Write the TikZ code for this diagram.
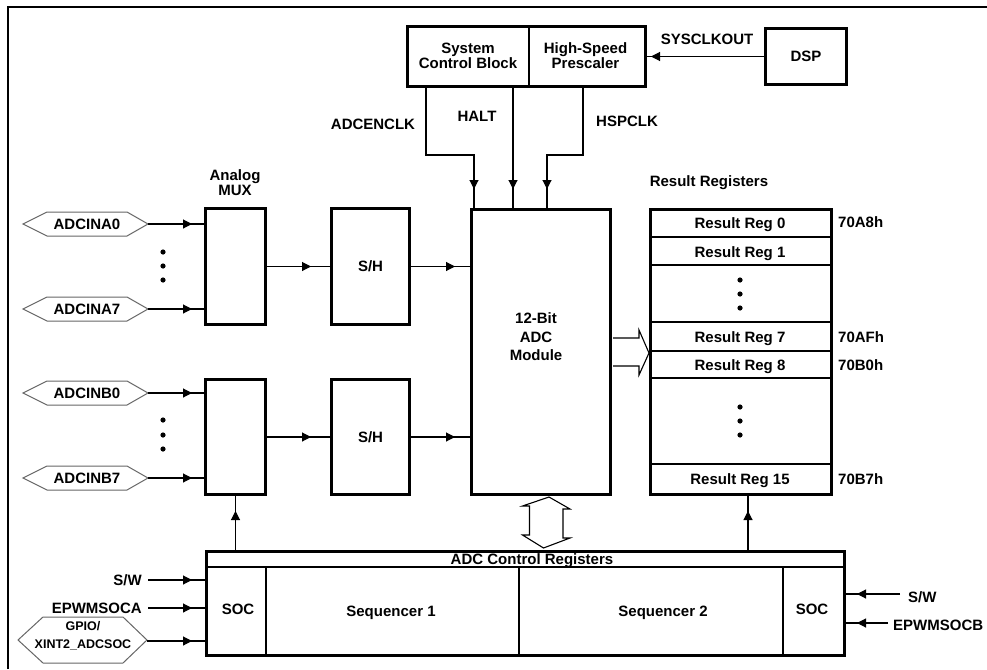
\documentclass[tikz,border=0pt]{standalone}
\usepackage{fontspec}
\setmainfont{Liberation Sans}
\usetikzlibrary{arrows.meta,decorations.markings,calc}
\tikzset{
  lbl/.style={font=\bfseries\fontsize{15}{15}\selectfont, inner sep=0pt, align=center, text height=10.7pt, text depth=0pt},
  mlbl/.style={font=\bfseries\fontsize{15}{15}\selectfont, inner sep=0pt, align=center},
  heavybox/.style={draw, line width=3pt, anchor=north west, inner sep=0pt},
  thinline/.style={line width=1.1pt},
  hexline/.style={draw=black!60, line width=1pt},
  feed/.style={line width=1.1pt, postaction={decorate},
    decoration={markings, mark=at position -#1 with {\arrow{Triangle[length=9pt,width=9pt]}}}},
  feed/.default=12pt,
  dot/.style={fill=black}
}
\newcommand\myhex[3]{%
  \draw[hexline] (23,#2) -- (47,#2-12) -- (127,#2-12) -- (148,#2) -- (127,#2+12) -- (47,#2+12) -- cycle;
  \node[lbl] (#1) at (87,#2) {#3};
  \coordinate (#1t) at (148,#2);
}
\begin{document}
\begin{tikzpicture}[x=1pt,y=-1pt]
\useasboundingbox (0,0) rectangle (987,669);
% frame
\draw[line width=2pt] (8,669) -- (8,7) -- (987,7);

% top blocks
\node[heavybox, draw=none, minimum width=119pt, minimum height=56pt] (scb) at (407,27) {};
\node[mlbl] at ([yshift=1pt]scb.center) {System\\Control Block};
\node[heavybox, draw=none, minimum width=116pt, minimum height=56pt] (hsp) at (526,27) {};
\node[mlbl] at ([yshift=1pt]hsp.center) {High-Speed\\Prescaler};
\draw[line width=3pt] (scb.north west) rectangle (hsp.south east);
\draw[line width=1.5pt] (scb.north east) -- (scb.south east);
\node[heavybox, minimum width=81pt, minimum height=56pt] (dsp) at (764,27) {};
\node[lbl] at (dsp.center) {DSP};
\draw[feed=6pt] (dsp.west) -- (dsp.west -| hsp.east);
\node[lbl] (sysclk) at (707,39) {SYSCLKOUT};

% ADC module and result registers
\node[heavybox, minimum width=139pt, minimum height=285pt] (adc) at (470,208) {};
\node[font=\bfseries\fontsize{15}{18.5}\selectfont, inner sep=0pt, align=center] at (536,337) {12-Bit\\ADC\\Module};
\node[heavybox, minimum width=181pt, minimum height=285pt] (res) at (649,208) {};
\node[lbl] (resl) at (709,181) {Result Registers};

% clock lines
\draw[feed=19pt] ([xshift=19pt]scb.south west) -- ++(0,69) -| ([xshift=4pt]adc.north west);
\draw[feed=19pt] ([xshift=-16pt]scb.south east) -- ([xshift=-16pt]scb.south east |- adc.north);
\draw[feed=19pt] ([xshift=57pt]hsp.south west) -- ++(0,69) -| ([xshift=77pt]adc.north west);
\node[lbl] (adcenclk) at (373,124) {ADCENCLK};
\node[lbl] (halt) at (477,116) {HALT};
\node[lbl] (hspclk) at (627,121) {HSPCLK};

% result register rows
\foreach \yy in {237,265,322,351,378,464}
  \draw[thinline] (res.west |- 0,\yy) -- (res.east |- 0,\yy);
\node[lbl] (r0) at (740,223) {Result Reg 0};
\node[lbl] (r1) at (740,252) {Result Reg 1};
\node[lbl] (r7) at (740,337) {Result Reg 7};
\node[lbl] (r8) at (740,365) {Result Reg 8};
\node[lbl] (r15) at (740,479) {Result Reg 15};
\foreach \yy in {280,294,308,407,421,435}
  \fill[dot] (740,\yy) circle[radius=2.6pt];
\node[lbl, anchor=west] (ad0) at (838,222) {70A8h};
\node[lbl, anchor=west] (ad7) at (838,337) {70AFh};
\node[lbl, anchor=west] (ad8) at (838,365) {70B0h};
\node[lbl, anchor=west] (ad15) at (838,479) {70B7h};

% fat arrow ADC -> results
\draw[thinline, fill=white] ($(adc.east)+(1,-14)$) -- ++(26,0) -- ++(0,-8) -- ($(res.west)+(0,1)$)
   -- ($(adc.east)+(27,23)$) -- ++(0,-9) -- ($(adc.east)+(1,14)$);

% MUX and S/H
\node[heavybox, minimum width=60pt, minimum height=116pt] (mux1) at (204,207) {};
\node[heavybox, minimum width=60pt, minimum height=115pt] (mux2) at (204,378) {};
\node[mlbl] (muxl) at (235,183) {Analog\\MUX};
\node[heavybox, minimum width=78pt, minimum height=116pt] (sh1) at (330,207) {};
\node[heavybox, minimum width=78pt, minimum height=115pt] (sh2) at (330,378) {};
\node[lbl] at (sh1.center) {S/H};
\node[lbl] at (sh2.center) {S/H};
\draw[feed=19pt] (mux1.east) -- (sh1.west);
\draw[feed=19pt] (mux2.east) -- (sh2.west);
\draw[feed=15pt] (sh1.east) -- (sh1.east -| adc.west);
\draw[feed=15pt] (sh2.east) -- (sh2.east -| adc.west);

% inputs
\myhex{a0}{224}{ADCINA0}
\myhex{a7}{309}{ADCINA7}
\myhex{b0}{393}{ADCINB0}
\myhex{b7}{478}{ADCINB7}
\foreach \yy in {252,266,280,420,435,449}
  \fill[dot] (163,\yy) circle[radius=2.6pt];
\foreach \n in {a0,a7,b0,b7}
  \draw[feed=12pt] (\n t) -- (\n t -| mux1.west);

% control registers
\node[heavybox, minimum width=638pt, minimum height=104pt] (ctrl) at (205,550) {};
\draw[thinline] (ctrl.west |- 0,567) -- (ctrl.east |- 0,567);
\foreach \xx in {266,519,783}
  \draw[thinline] (\xx,567) -- (\xx,0 |- ctrl.south);
\node[lbl] (ctrll) at (532,559) {ADC Control Registers};
\node[lbl] (soc1) at (238,609) {SOC};
\node[lbl] (seq1) at (391,611) {Sequencer 1};
\node[lbl] (seq2) at (663,611) {Sequencer 2};
\node[lbl] (soc2) at (812,609) {SOC};

% double arrow ADC <-> control
\draw[thinline, fill=white] ($(adc.south)+(8,1)$) -- ++(21,12) -- ++(-7,0) -- ++(0,29) -- ++(7,0)
  -- ($(ctrl.north)+(18,-2)$) -- ++(-21,-13) -- ++(7,0) -- ++(0,-29) -- ++(-7,0) -- cycle;

% up arrows
\draw[feed=15pt] (mux2.south |- ctrl.north) -- (mux2.south);
\coordinate (rb) at ($(res.south west)+(99,0)$);
\draw[feed=15pt] (rb |- ctrl.north) -- (rb);

% left trigger inputs
\node[lbl, anchor=east] (swa) at (142,580) {S/W};
\node[lbl, anchor=east] (epa) at (142,608) {EPWMSOCA};
\draw[hexline] (18,640) -- (43,617) -- (123,617) -- (147,640) -- (123,663) -- (43,663) -- cycle;
\node[font=\bfseries\fontsize{12.5}{18}\selectfont, inner sep=0pt, align=center] (gpio) at (83,636) {GPIO/\\XINT2\_ADCSOC};
\coordinate (gpiot) at (147,641);
\draw[feed=13pt] ([xshift=6pt]swa.east) -- (swa.east -| ctrl.west);
\draw[feed=13pt] ([xshift=6pt]epa.east) -- (epa.east -| ctrl.west);
\draw[feed=13pt] (gpiot) -- (gpiot -| ctrl.west);

% right trigger inputs
\node[lbl, anchor=west] (swb) at (908,597) {S/W};
\node[lbl, anchor=west] (epb) at (893,625) {EPWMSOCB};
\coordinate (swbt) at (900,594);
\coordinate (epbt) at (888,623);
\draw[feed=11pt] (swbt) -- (swbt -| ctrl.east);
\draw[feed=11pt] (epbt) -- (epbt -| ctrl.east);
\end{tikzpicture}
\end{document}
